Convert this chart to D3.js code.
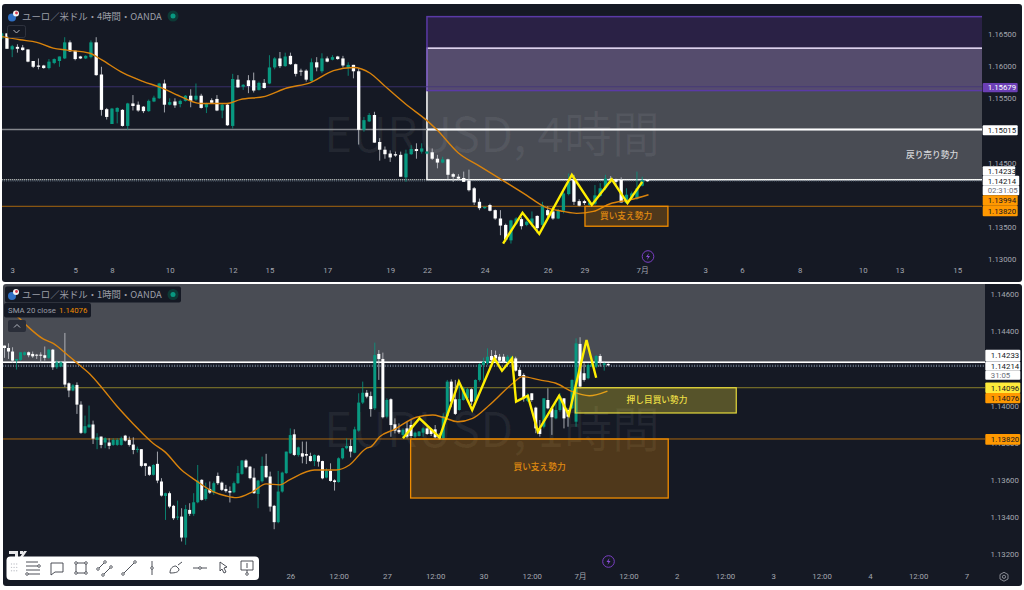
<!DOCTYPE html>
<html>
<head>
<meta charset="utf-8">
<script src="https://cdn.jsdelivr.net/npm/d3@7/dist/d3.min.js"></script>
<style>
	html, body { margin: 0; padding: 0; background: #fff; }
	svg { display: block; }
	text { font-family: Roboto, "Noto Sans CJK JP", sans-serif; }
	.jp { font-family: "Noto Sans CJK JP", sans-serif; }
</style>
</head>
<body>
<svg id="chart" width="1024" height="590"></svg>
<script>
// 4 hour candles
var topOpen = [1.1643,1.1651,1.1626,1.1630,1.1629,1.1626,1.1608,1.1601,1.1601,1.1597,1.1605,1.1608,1.1612,1.1637,1.1624,1.1615,1.1612,1.1614,1.1637,1.1587,1.1533,1.1510,1.1529,1.1532,1.1507,1.1542,1.1540,1.1537,1.1530,1.1545,1.1550,1.1573,1.1540,1.1545,1.1541,1.1546,1.1554,1.1548,1.1554,1.1536,1.1547,1.1549,1.1531,1.1540,1.1507,1.1579,1.1568,1.1578,1.1578,1.1563,1.1574,1.1573,1.1598,1.1612,1.1600,1.1616,1.1603,1.1593,1.1593,1.1577,1.1606,1.1592,1.1612,1.1610,1.1615,1.1612,1.1597,1.1602,1.1592,1.1501,1.1514,1.1524,1.1482,1.1470,1.1464,1.1463,1.1462,1.1427,1.1463,1.1471,1.1467,1.1464,1.1466,1.1456,1.1450,1.1455,1.1432,1.1428,1.1426,1.1422,1.1410,1.1389,1.1379,1.1384,1.1376,1.1363,1.1353,1.1329,1.1355,1.1362,1.1353,1.1355,1.1367,1.1353,1.1376,1.1374,1.1363,1.1375,1.1401,1.1423,1.1390,1.1390,1.1384,1.1386,1.1398,1.1410,1.1425,1.1424,1.1423,1.1387,1.1394,1.1394,1.1414,1.1423];
var topHigh = [1.1652,1.1651,1.1633,1.1634,1.1633,1.1626,1.1608,1.1612,1.1602,1.1611,1.1612,1.1615,1.1645,1.1640,1.1624,1.1616,1.1617,1.1640,1.1645,1.1599,1.1535,1.1535,1.1536,1.1533,1.1543,1.1555,1.1545,1.1538,1.1548,1.1554,1.1574,1.1579,1.1550,1.1550,1.1548,1.1555,1.1564,1.1573,1.1557,1.1543,1.1550,1.1555,1.1542,1.1541,1.1588,1.1586,1.1572,1.1586,1.1590,1.1576,1.1580,1.1617,1.1614,1.1622,1.1621,1.1621,1.1604,1.1596,1.1595,1.1612,1.1614,1.1620,1.1615,1.1617,1.1616,1.1616,1.1606,1.1602,1.1597,1.1521,1.1527,1.1529,1.1488,1.1475,1.1469,1.1467,1.1467,1.1470,1.1477,1.1480,1.1480,1.1468,1.1472,1.1462,1.1459,1.1456,1.1434,1.1432,1.1436,1.1439,1.1412,1.1394,1.1382,1.1386,1.1377,1.1376,1.1355,1.1361,1.1365,1.1365,1.1360,1.1374,1.1368,1.1389,1.1382,1.1381,1.1378,1.1405,1.1433,1.1431,1.1393,1.1392,1.1389,1.1415,1.1418,1.1431,1.1429,1.1425,1.1427,1.1410,1.1405,1.1436,1.1428,1.1424];
var topLow = [1.1642,1.1627,1.1614,1.1621,1.1624,1.1606,1.1597,1.1595,1.1596,1.1595,1.1603,1.1599,1.1611,1.1622,1.1609,1.1611,1.1611,1.1612,1.1585,1.1523,1.1517,1.1510,1.1511,1.1506,1.1501,1.1531,1.1529,1.1527,1.1529,1.1544,1.1549,1.1528,1.1539,1.1535,1.1536,1.1545,1.1536,1.1546,1.1534,1.1527,1.1542,1.1530,1.1519,1.1507,1.1503,1.1566,1.1563,1.1558,1.1559,1.1562,1.1565,1.1572,1.1595,1.1597,1.1599,1.1602,1.1584,1.1585,1.1576,1.1576,1.1592,1.1589,1.1606,1.1609,1.1610,1.1598,1.1585,1.1581,1.1478,1.1498,1.1513,1.1481,1.1453,1.1456,1.1451,1.1459,1.1428,1.1420,1.1462,1.1456,1.1464,1.1463,1.1454,1.1441,1.1449,1.1424,1.1420,1.1423,1.1420,1.1405,1.1384,1.1376,1.1378,1.1374,1.1361,1.1337,1.1327,1.1324,1.1353,1.1346,1.1351,1.1350,1.1340,1.1348,1.1365,1.1361,1.1362,1.1371,1.1399,1.1384,1.1382,1.1384,1.1381,1.1384,1.1397,1.1407,1.1418,1.1415,1.1388,1.1386,1.1393,1.1392,1.1413,1.1420];
var topClose = [1.1651,1.1627,1.1631,1.1627,1.1625,1.1607,1.1599,1.1599,1.1597,1.1607,1.1611,1.1615,1.1637,1.1623,1.1611,1.1612,1.1616,1.1637,1.1586,1.1532,1.1521,1.1534,1.1535,1.1507,1.1542,1.1538,1.1531,1.1530,1.1546,1.1551,1.1573,1.1540,1.1544,1.1539,1.1546,1.1554,1.1546,1.1554,1.1535,1.1542,1.1543,1.1531,1.1540,1.1508,1.1580,1.1567,1.1571,1.1569,1.1562,1.1574,1.1566,1.1598,1.1612,1.1600,1.1615,1.1603,1.1588,1.1592,1.1579,1.1606,1.1598,1.1612,1.1607,1.1614,1.1611,1.1601,1.1602,1.1592,1.1501,1.1516,1.1524,1.1481,1.1470,1.1463,1.1458,1.1461,1.1428,1.1464,1.1471,1.1468,1.1472,1.1467,1.1456,1.1450,1.1455,1.1431,1.1428,1.1425,1.1420,1.1407,1.1388,1.1379,1.1381,1.1375,1.1363,1.1352,1.1330,1.1360,1.1363,1.1351,1.1358,1.1363,1.1348,1.1384,1.1368,1.1363,1.1376,1.1402,1.1420,1.1389,1.1383,1.1387,1.1388,1.1399,1.1410,1.1425,1.1423,1.1420,1.1388,1.1400,1.1402,1.1410,1.1423,1.1421];

var topSmaAt = [0,3.5,6.7,9.8,12.4,16.8,19,23.2,27,30.2,34,37.8,42.9,45.4,50.2,54.3,58.7,63.2,67,70.2,72.7,77.1,80.9,82.9,87,91.1,95.5,100,103.2,107,109.5,112.7,115.9,119.7,123.2];
var topSmaVal = [1.1646,1.1641,1.1637,1.1628,1.1625,1.1620,1.1610,1.1589,1.1576,1.1567,1.1553,1.1542,1.1542,1.1548,1.1553,1.1566,1.1574,1.1593,1.1598,1.1589,1.1571,1.1540,1.1516,1.1501,1.1465,1.1444,1.1422,1.1399,1.1382,1.1374,1.1371,1.1374,1.1386,1.1392,1.1400];
var topWaveAt = [95.5,99.2,102.4,108.6,112.4,116.2,119.2,122];
var topWaveVal = [1.1324,1.1372,1.1339,1.1431,1.1384,1.1424,1.1387,1.1420];

// 1.150 and 1.140 sit fully under the price tags
var topPriceTicks = [1.165,1.16,1.155,1.145,1.135,1.13];
var topTimeAt = [2,14,21,32,44,51,62,74,81,92,104,111,122,134,141,152,164,171,182];
var topTimeLabels = ["3","5","8","10","12","15","17","19","22","24","26","29","7月","3","6","8","10","13","15"];

// 1 hour candles
var lowOpen = [1.14323,1.14310,1.14291,1.14242,1.14246,1.14273,1.14287,1.14278,1.14274,1.14274,1.14271,1.14257,1.14301,1.14206,1.14210,1.14233,1.14120,1.14081,1.14111,1.14005,1.13853,1.13883,1.13898,1.13815,1.13833,1.13801,1.13801,1.13788,1.13788,1.13788,1.13838,1.13815,1.13790,1.13761,1.13765,1.13689,1.13671,1.13627,1.13686,1.13591,1.13513,1.13528,1.13460,1.13399,1.13402,1.13289,1.13438,1.13417,1.13479,1.13600,1.13497,1.13551,1.13531,1.13621,1.13585,1.13551,1.13540,1.13533,1.13582,1.13632,1.13704,1.13671,1.13612,1.13524,1.13592,1.13675,1.13618,1.13460,1.13372,1.13537,1.13636,1.13743,1.13845,1.13734,1.13743,1.13739,1.13728,1.13701,1.13730,1.13701,1.13612,1.13648,1.13597,1.13588,1.13716,1.13770,1.13782,1.13746,1.13865,1.14016,1.14069,1.14051,1.13985,1.14278,1.14251,1.13940,1.14034,1.13899,1.13868,1.13842,1.13877,1.13895,1.13833,1.13836,1.13854,1.13877,1.13872,1.13872,1.13836,1.13824,1.13944,1.14129,1.14034,1.13976,1.14030,1.14039,1.14088,1.14025,1.14138,1.14218,1.14228,1.14267,1.14272,1.14263,1.14263,1.14236,1.14242,1.14254,1.14192,1.14165,1.14025,1.14066,1.13989,1.13877,1.13886,1.14030,1.13985,1.13931,1.13976,1.14039,1.13976,1.13985,1.13913,1.14332,1.14174,1.14147,1.14210,1.14210,1.14267,1.14218,1.14224];
var lowHigh = [1.14323,1.14335,1.14314,1.14251,1.14287,1.14291,1.14291,1.14291,1.14278,1.14287,1.14318,1.14305,1.14305,1.14246,1.14239,1.14391,1.14125,1.14116,1.14125,1.14023,1.13946,1.14000,1.13919,1.13851,1.13833,1.13829,1.13824,1.13824,1.13824,1.13833,1.13842,1.13833,1.13829,1.13779,1.13765,1.13689,1.13675,1.13684,1.13752,1.13609,1.13531,1.13537,1.13465,1.13488,1.13447,1.13465,1.13474,1.13528,1.13680,1.13603,1.13585,1.13591,1.13591,1.13639,1.13591,1.13573,1.13564,1.13591,1.13675,1.13707,1.13711,1.13675,1.13662,1.13600,1.13725,1.13740,1.13644,1.13465,1.13648,1.13644,1.13752,1.13877,1.13872,1.13779,1.13806,1.13806,1.13746,1.13737,1.13734,1.13703,1.13662,1.13689,1.13603,1.13721,1.13773,1.13823,1.13818,1.13886,1.14066,1.14129,1.14084,1.14075,1.14339,1.14299,1.14285,1.14039,1.14039,1.13931,1.13904,1.13877,1.13913,1.13922,1.13860,1.13863,1.13883,1.13886,1.13877,1.13895,1.13851,1.13958,1.14138,1.14141,1.14138,1.14138,1.14102,1.14095,1.14093,1.14141,1.14228,1.14258,1.14308,1.14299,1.14296,1.14278,1.14278,1.14272,1.14267,1.14263,1.14206,1.14174,1.14066,1.14066,1.13994,1.13922,1.14039,1.14093,1.13994,1.14012,1.14066,1.14039,1.13985,1.14141,1.14362,1.14368,1.14228,1.14228,1.14231,1.14272,1.14278,1.14231,1.14228];
var lowLow = [1.14257,1.14251,1.14230,1.14194,1.14242,1.14269,1.14260,1.14257,1.14251,1.14230,1.14242,1.14251,1.14192,1.14197,1.14206,1.14099,1.14045,1.14077,1.13955,1.13847,1.13847,1.13880,1.13793,1.13765,1.13770,1.13770,1.13765,1.13783,1.13783,1.13784,1.13806,1.13779,1.13738,1.13747,1.13668,1.13621,1.13621,1.13623,1.13582,1.13510,1.13384,1.13447,1.13384,1.13384,1.13268,1.13250,1.13406,1.13406,1.13474,1.13488,1.13488,1.13524,1.13519,1.13573,1.13540,1.13531,1.13478,1.13528,1.13578,1.13627,1.13662,1.13603,1.13524,1.13447,1.13585,1.13609,1.13429,1.13334,1.13366,1.13531,1.13632,1.13739,1.13728,1.13725,1.13689,1.13685,1.13698,1.13674,1.13671,1.13603,1.13608,1.13590,1.13542,1.13585,1.13710,1.13764,1.13721,1.13743,1.13859,1.14008,1.14039,1.13940,1.13976,1.14138,1.13931,1.13931,1.13832,1.13850,1.13847,1.13824,1.13824,1.13824,1.13824,1.13833,1.13833,1.13842,1.13836,1.13824,1.13815,1.13818,1.13937,1.13991,1.13949,1.13973,1.14026,1.14030,1.14003,1.14019,1.14129,1.14129,1.14218,1.14236,1.14242,1.14228,1.14228,1.14228,1.14236,1.14183,1.14156,1.14021,1.14019,1.14021,1.13851,1.13833,1.13877,1.13980,1.13842,1.13926,1.13967,1.13877,1.13886,1.13980,1.13886,1.14093,1.14129,1.14141,1.14206,1.14201,1.14210,1.14188,1.14213];
var lowClose = [1.14310,1.14291,1.14242,1.14251,1.14287,1.14287,1.14271,1.14265,1.14271,1.14269,1.14257,1.14301,1.14206,1.14233,1.14233,1.14113,1.14081,1.14109,1.14005,1.13853,1.13889,1.13898,1.13822,1.13829,1.13788,1.13824,1.13783,1.13815,1.13815,1.13824,1.13811,1.13788,1.13761,1.13767,1.13675,1.13675,1.13627,1.13680,1.13596,1.13515,1.13528,1.13456,1.13393,1.13402,1.13289,1.13442,1.13417,1.13479,1.13596,1.13492,1.13551,1.13531,1.13582,1.13582,1.13546,1.13539,1.13531,1.13582,1.13636,1.13704,1.13668,1.13609,1.13528,1.13596,1.13675,1.13614,1.13456,1.13372,1.13537,1.13639,1.13752,1.13841,1.13734,1.13775,1.13725,1.13730,1.13701,1.13734,1.13698,1.13608,1.13648,1.13594,1.13588,1.13716,1.13770,1.13782,1.13752,1.13872,1.14016,1.14069,1.14048,1.13981,1.14272,1.14251,1.13937,1.14030,1.13895,1.13865,1.13856,1.13869,1.13833,1.13836,1.13854,1.13860,1.13877,1.13847,1.13847,1.13829,1.13824,1.13944,1.14129,1.14021,1.13955,1.14035,1.14093,1.14088,1.14021,1.14138,1.14222,1.14236,1.14263,1.14245,1.14254,1.14242,1.14236,1.14263,1.14263,1.14188,1.14159,1.14039,1.14057,1.14030,1.13877,1.13847,1.14039,1.13985,1.13937,1.13976,1.14048,1.13931,1.13940,1.14138,1.14335,1.14102,1.14138,1.14219,1.14228,1.14267,1.14236,1.14228,1.14217];

var lowSmaAt = [0,3.4,5.5,9.6,12.1,15.4,18.3,21.2,24.1,27.8,32,36.9,39.8,44,47.3,51.8,55.1,57.6,61.7,65,68.4,70.8,77,82.4,85.7,89.9,91.1,93.2,96.9,102.3,106.4,108.9,112.6,116.3,120.5,126.3,128.7,132.9,137,141.1,145.3,149.8];
var lowSmaVal = [1.14538,1.14475,1.14431,1.14359,1.14335,1.14278,1.14224,1.14170,1.14099,1.14000,1.13901,1.13797,1.13752,1.13653,1.13600,1.13537,1.13513,1.13504,1.13537,1.13578,1.13573,1.13600,1.13653,1.13653,1.13680,1.13770,1.13779,1.13832,1.13872,1.13937,1.13949,1.13937,1.13913,1.13931,1.14003,1.14120,1.14156,1.14138,1.14120,1.14075,1.14053,1.14078];
var lowWaveAt = [99,103.1,108.1,112.9,116.2,121.7,123.6,126.1,127.1,130,132.5,137.8,140.2,144.6,147];
var lowWaveVal = [1.13824,1.13931,1.13829,1.14129,1.13976,1.14254,1.14188,1.14254,1.14021,1.14053,1.13860,1.14053,1.13949,1.14353,1.14150];

// 1.142 sits fully under the price tags
var lowPriceTicks = [1.146,1.144,1.14,1.138,1.136,1.134,1.132];
var lowTimeAt = [11,23,35,47,59,71,83,95,107,119,131,143,155,167,179,191,203,215,227,239];
var lowTimeLabels = ["12:00","24","12:00","25","12:00","26","12:00","27","12:00","30","12:00","7月","12:00","2","12:00","3","12:00","4","12:00","7"];

var toolbarAt = [33,57,81,105,129,152,176,200,223,247];

var bg = "#151924",
	green = "#089981",
	orange = "#f08c00",
	orangeLine = "#a8670f",
	tickGray = "#a4a7b0",
	nameGray = "#9b9ea7";

var svg = d3.select("#chart");
var defs = svg.append("defs");

function rows(o, h, l, c) {
	return o.map(function(d, i) {
		return {i: i, o: d, h: h[i], l: l[i], c: c[i]};
	});
}

function pairs(at, val) {
	return at.map(function(d, i) { return [d, val[i]]; });
}

function panel(cfg) {
	var g = svg.append("g");

	g.append("rect")
		.attr("x", cfg.left)
		.attr("y", cfg.top)
		.attr("width", 1022 - cfg.left)
		.attr("height", cfg.bottom - cfg.top)
		.attr("rx", 3)
		.attr("fill", bg);

	defs.append("clipPath")
		.attr("id", cfg.id)
		.append("rect")
		.attr("x", cfg.left)
		.attr("y", cfg.top)
		.attr("width", cfg.right - cfg.left)
		.attr("height", cfg.axisY - cfg.top);

	var x = d3.scaleLinear().domain(cfg.xDomain).range(cfg.xRange);
	var y = d3.scaleLinear().domain(cfg.yDomain).range(cfg.yRange);

	var plot = g.append("g").attr("clip-path", "url(#" + cfg.id + ")");

	plot.append("text")
		.attr("class", "jp")
		.attr("x", 492)
		.attr("y", cfg.markY)
		.attr("text-anchor", "middle")
		.attr("font-size", 48)
		.attr("fill", "#fff")
		.attr("fill-opacity", 0.06)
		.text(cfg.mark);

	return {g: g, plot: plot, x: x, y: y};
}

function zone(p, x, y, d) {
	p.append("rect")
		.attr("x", x(d.x0))
		.attr("y", y(d.y0))
		.attr("width", x(d.x1) - x(d.x0))
		.attr("height", y(d.y1) - y(d.y0))
		.attr("fill", d.fill)
		.attr("stroke", d.stroke || "none")
		.attr("stroke-width", d.sw || 1.5);
}

function hline(p, x, y, price, from, color, width, dash) {
	p.append("line")
		.attr("x1", x(from))
		.attr("x2", x(300))
		.attr("y1", y(price))
		.attr("y2", y(price))
		.attr("stroke", color)
		.attr("stroke-width", width)
		.attr("stroke-dasharray", dash || null);
}

function candles(p, x, y, data, bodyWidth) {
	var c = p.append("g");
	c.selectAll("line.wick")
		.data(data)
		.enter()
		.append("line")
		.attr("class", "wick")
		.attr("x1", function(d) { return x(d.i); })
		.attr("x2", function(d) { return x(d.i); })
		.attr("y1", function(d) { return y(d.h); })
		.attr("y2", function(d) { return y(d.l); })
		.attr("stroke", function(d) { return d.c >= d.o ? green : "#c8cad0"; })
		.attr("stroke-width", 0.8);
	c.selectAll("rect.body")
		.data(data)
		.enter()
		.append("rect")
		.attr("class", "body")
		.attr("x", function(d) { return x(d.i) - bodyWidth / 2; })
		.attr("y", function(d) { return y(Math.max(d.o, d.c)); })
		.attr("width", bodyWidth)
		.attr("height", function(d) { return Math.max(1, Math.abs(y(d.o) - y(d.c))); })
		.attr("fill", function(d) { return d.c >= d.o ? green : "#fff"; });
}

function path(p, x, y, pts, color, width, curve) {
	p.append("path")
		.attr("d", d3.line()
			.x(function(d) { return x(d[0]); })
			.y(function(d) { return y(d[1]); })
			.curve(curve)(pts))
		.attr("fill", "none")
		.attr("stroke", color)
		.attr("stroke-width", width)
		.attr("stroke-linejoin", "miter");
}

function axes(g, x, y, cfg, priceTicks, timeAt, timeLabels) {
	var ay = g.append("g")
		.attr("transform", "translate(" + cfg.tickX + ",0)")
		.call(d3.axisRight(y).tickValues(priceTicks).tickSize(0).tickPadding(0).tickFormat(d3.format(".5f")));
	var ax = g.append("g")
		.attr("transform", "translate(0," + cfg.axisY + ")")
		.call(d3.axisBottom(x).tickValues(timeAt).tickSize(0).tickPadding(3).tickFormat(function(d, i) { return timeLabels[i]; }));
	[ay, ax].forEach(function(a) {
		a.select(".domain").remove();
		a.selectAll("text")
			.attr("fill", tickGray)
			.attr("font-size", 7.8)
			.attr("font-family", 'Roboto, "Noto Sans CJK JP", sans-serif');
	});
}

function tag(g, d) {
	g.append("rect")
		.attr("x", d.x)
		.attr("y", d.y)
		.attr("width", d.w)
		.attr("height", d.h)
		.attr("rx", 1)
		.attr("fill", d.fill);
	g.append("text")
		.attr("x", d.x + d.pad)
		.attr("y", d.y + d.h / 2 + 2.8)
		.attr("font-size", 7.8)
		.attr("fill", d.color)
		.text(d.text);
}

function label(g, px, py, text, color) {
	g.append("text")
		.attr("class", "jp")
		.attr("x", px)
		.attr("y", py)
		.attr("text-anchor", "middle")
		.attr("font-size", 8.7)
		.attr("font-weight", 500)
		.attr("fill", color)
		.text(text);
}

function header(g, py, text, boxed) {
	if (boxed) {
		g.append("rect").attr("x", 5).attr("y", py - 8).attr("width", 176).attr("height", 16).attr("rx", 2).attr("fill", bg);
	}
	g.append("circle").attr("cx", 12).attr("cy", py + 1.5).attr("r", 4).attr("fill", "#2f6fc4");
	g.append("circle").attr("cx", 16).attr("cy", py - 2.5).attr("r", 3).attr("fill", "#f4f4f4");
	g.append("circle").attr("cx", 16.5).attr("cy", py - 3).attr("r", 1.4).attr("fill", "#d8394c");
	g.append("text")
		.attr("class", "jp")
		.attr("x", 22)
		.attr("y", py + 3.6)
		.attr("font-size", 9.4)
		.attr("fill", nameGray)
		.text(text);
	g.append("circle").attr("cx", 173).attr("cy", py).attr("r", 5.5).attr("fill", "#0d3a36");
	g.append("circle").attr("cx", 173).attr("cy", py).attr("r", 2.5).attr("fill", green);
}

function chevron(g, px, py, up) {
	g.append("rect")
		.attr("x", px)
		.attr("y", py)
		.attr("width", 18)
		.attr("height", 12)
		.attr("rx", 2)
		.attr("fill", up ? "#2a2e39" : bg)
		.attr("stroke", up ? "none" : "#3a3e4a")
		.attr("stroke-width", 0.7);
	g.append("path")
		.attr("d", up
			? "M" + (px + 6) + "," + (py + 7.5) + "l3,-3l3,3"
			: "M" + (px + 6) + "," + (py + 4.5) + "l3,3l3,-3")
		.attr("fill", "none")
		.attr("stroke", "#b2b5be")
		.attr("stroke-width", 1);
}

function bolt(g, px, py) {
	g.append("circle")
		.attr("cx", px).attr("cy", py).attr("r", 5.8)
		.attr("fill", "none").attr("stroke", "#7b3fc4").attr("stroke-width", 1);
	g.append("path")
		.attr("d", "M" + (px + 1) + "," + (py - 3.5) + "l-3,4h2l-1,3l3,-4h-2z")
		.attr("fill", "#8a4fd8");
}

// top panel, 4 hours
var topCfg = {
	id: "clipTop", left: 2, top: 4, right: 982, bottom: 282, axisY: 264, tickX: 988, markY: 152,
	mark: "EURUSD, 4時間",
	xDomain: [0, 100], xRange: [1.7, 526.7],
	yDomain: [1.13, 1.165], yRange: [259, 34]
};
var topP = panel(topCfg);

zone(topP.plot, topP.x, topP.y, {x0: 81, x1: 300, y0: 1.1628, y1: 1.14233, fill: "rgba(255,255,255,0.225)", stroke: "#fff"});
zone(topP.plot, topP.x, topP.y, {x0: 81, x1: 300, y0: 1.1677, y1: 1.1562, fill: "rgba(150,78,236,0.17)", stroke: "#5a3aa6"});
hline(topP.plot, topP.x, topP.y, 1.15679, 0, "#43357a", 0.8);
hline(topP.plot, topP.x, topP.y, 1.15015, 0, "#85878d", 1.5);
hline(topP.plot, topP.x, topP.y, 1.15015, 81, "#fff", 2);
hline(topP.plot, topP.x, topP.y, 1.14233, 0, "#e8ece8", 1.2, "1.2 0.8");
hline(topP.plot, topP.x, topP.y, 1.14214, 0, "#5f7080", 1, "1 1.2");
hline(topP.plot, topP.x, topP.y, 1.1382, 0, orangeLine, 1);

candles(topP.plot, topP.x, topP.y, rows(topOpen, topHigh, topLow, topClose), 3.3);
path(topP.plot, topP.x, topP.y, pairs(topSmaAt, topSmaVal), "#d9830c", 1.4, d3.curveMonotoneX);
zone(topP.plot, topP.x, topP.y, {x0: 111.1, x1: 126.9, y0: 1.1382, y1: 1.1351, fill: "rgba(255,152,0,0.25)", stroke: orange, sw: 1.3});
path(topP.plot, topP.x, topP.y, pairs(topWaveAt, topWaveVal), "#ffee00", 2.4, d3.curveLinear);

label(topP.plot, 626, 219, "買い支え勢力", "#e08a10");
label(topP.plot, 932, 158, "戻り売り勢力", "#d4d5d8");

axes(topP.g, topP.x, topP.y, topCfg, topPriceTicks, topTimeAt, topTimeLabels);
header(topP.g, 16, "ユーロ／米ドル・4時間・OANDA", false);
chevron(topP.g, 7.5, 25.5, false);
bolt(topP.g, 648, 256.5);

tag(topP.g, {x: 982.7, y: 83, w: 35, h: 9.3, pad: 5, fill: "#6b3fb5", color: "#fff", text: "1.15679"});
tag(topP.g, {x: 982.7, y: 125.3, w: 35, h: 10, pad: 5, fill: "#fff", color: "#131722", text: "1.15015"});
tag(topP.g, {x: 982.7, y: 166.3, w: 32.5, h: 9.4, pad: 5, fill: "#fff", color: "#131722", text: "1.14233"});
tag(topP.g, {x: 982.7, y: 175.7, w: 36.5, h: 10, pad: 5, fill: "#fff", color: "#131722", text: "1.14214"});
tag(topP.g, {x: 982.7, y: 185.7, w: 36.5, h: 9.6, pad: 5, fill: "#fff", color: "#6a6d78", text: "02:31:05"});
tag(topP.g, {x: 982.7, y: 195.3, w: 35, h: 10.5, pad: 5, fill: "#ff9800", color: "#131722", text: "1.13994"});
tag(topP.g, {x: 982.7, y: 205.8, w: 35, h: 10.5, pad: 5, fill: "#ff9800", color: "#131722", text: "1.13820"});

// bottom panel, 1 hour
var lowCfg = {
	id: "clipLow", left: 3, top: 284, right: 985, bottom: 586, axisY: 570, tickX: 990.5, markY: 447,
	mark: "EURUSD, 1時間",
	xDomain: [0, 100], xRange: [4.5, 407],
	yDomain: [1.132, 1.146], yRange: [554.1, 294.15]
};
var lowP = panel(lowCfg);

zone(lowP.plot, lowP.x, lowP.y, {x0: -5, x1: 300, y0: 1.15, y1: 1.14233, fill: "rgba(255,255,255,0.225)", stroke: "#fff"});
hline(lowP.plot, lowP.x, lowP.y, 1.14233, -5, "#fff", 1.3);
hline(lowP.plot, lowP.x, lowP.y, 1.14214, -5, "#6a7688", 2.2, "1 1.6");
hline(lowP.plot, lowP.x, lowP.y, 1.14096, -5, "#8a7f2a", 1);
hline(lowP.plot, lowP.x, lowP.y, 1.1382, -5, orangeLine, 1);

candles(lowP.plot, lowP.x, lowP.y, rows(lowOpen, lowHigh, lowLow, lowClose), 3);
path(lowP.plot, lowP.x, lowP.y, pairs(lowSmaAt, lowSmaVal), "#d9830c", 1.4, d3.curveMonotoneX);
zone(lowP.plot, lowP.x, lowP.y, {x0: 141.8, x1: 181.8, y0: 1.14096, y1: 1.1396, fill: "rgba(255,235,59,0.28)", stroke: "#e6da3c", sw: 1.2});
zone(lowP.plot, lowP.x, lowP.y, {x0: 100.9, x1: 164.9, y0: 1.1382, y1: 1.13502, fill: "rgba(255,152,0,0.25)", stroke: orange, sw: 1.3});
path(lowP.plot, lowP.x, lowP.y, pairs(lowWaveAt, lowWaveVal), "#ffee00", 2.4, d3.curveLinear);

label(lowP.plot, 657, 403, "押し目買い勢力", "#ecdf45");
label(lowP.plot, 539.5, 470, "買い支え勢力", "#e08a10");

axes(lowP.g, lowP.x, lowP.y, lowCfg, lowPriceTicks, lowTimeAt, lowTimeLabels);
header(lowP.g, 294.5, "ユーロ／米ドル・1時間・OANDA", true);
lowP.g.append("rect").attr("x", 4).attr("y", 303).attr("width", 87).attr("height", 14.5).attr("rx", 2).attr("fill", bg);
lowP.g.append("text").attr("x", 8).attr("y", 313).attr("font-size", 7.8).attr("fill", nameGray).text("SMA 20 close");
lowP.g.append("text").attr("x", 59).attr("y", 313).attr("font-size", 7.8).attr("fill", "#f08c00").text("1.14076");
chevron(lowP.g, 8, 320, true);
bolt(lowP.g, 608.5, 561.5);

tag(lowP.g, {x: 985.3, y: 349.7, w: 35, h: 11.7, pad: 5.5, fill: "#fff", color: "#131722", text: "1.14233"});
tag(lowP.g, {x: 985.3, y: 361.4, w: 35, h: 9.3, pad: 5.5, fill: "#fff", color: "#131722", text: "1.14214"});
tag(lowP.g, {x: 985.3, y: 370.7, w: 35, h: 9, pad: 5.5, fill: "#fff", color: "#6a6d78", text: "31:05"});
tag(lowP.g, {x: 985.3, y: 382.5, w: 35, h: 10.5, pad: 5.5, fill: "#ffeb3b", color: "#131722", text: "1.14096"});
tag(lowP.g, {x: 985.3, y: 393, w: 35, h: 10.3, pad: 5.5, fill: "#ff9800", color: "#131722", text: "1.14076"});
tag(lowP.g, {x: 985.3, y: 434, w: 35, h: 10.7, pad: 5.5, fill: "#ff9800", color: "#131722", text: "1.13820"});

// settings gear
lowP.g.append("path")
	.attr("d", "M1000,574.5l4,-2.2l4,2.2v4.5l-4,2.2l-4,-2.2z")
	.attr("fill", "none").attr("stroke", "#9598a1").attr("stroke-width", 0.9);
lowP.g.append("circle").attr("cx", 1004).attr("cy", 576.8).attr("r", 1.6).attr("fill", "none").attr("stroke", "#9598a1").attr("stroke-width", 0.9);

// logo peeks out above the toolbar
lowP.g.append("path")
	.attr("d", "M9,551h9v6h-3v-3h-6zM20,551h3v3h-3zM24,551h3l-4,6h-3z")
	.attr("fill", "#e8e8ea");

// drawing toolbar
var bar = svg.append("g");
bar.append("rect")
	.attr("x", 6.5).attr("y", 556.5).attr("width", 252.5).attr("height", 23.5).attr("rx", 4)
	.attr("fill", "#fff");
bar.selectAll("circle.grip")
	.data(d3.range(9))
	.enter()
	.append("circle")
	.attr("class", "grip")
	.attr("cx", function(d) { return 11.5 + (d % 3) * 2.6; })
	.attr("cy", function(d) { return 564 + Math.floor(d / 3) * 3.4; })
	.attr("r", 0.7)
	.attr("fill", "#c4c6cc");

var icons = [
	"M-7,-6h12M-7,-2h14M-7,2h14M-5,6h12",
	"M-6,-5h12v9h-8l-4,3z",
	"M-5,-5h10v10h-10z",
	"M-7,1l7,-7M-2,7l8,-8",
	"M-6,6l12,-12",
	"M0,-7v14",
	"M-6,5c0,-5 3,-7 6,-7l3,3c0,3 -3,4 -9,4zM2,-3l4,-3",
	"M-7,0h14",
	"M-3,-6l7,5l-3,1l2,4l-2,1l-2,-4l-2,2z",
	"M-6,-7h12v9h-12zM0,-5v5M0,2v5"
];
var nodes = [
	[[6,-2],[-6,6]],
	[],
	[[-5,-5],[5,-5],[-5,5],[5,5]],
	[[-7,1],[0,-6],[-2,7],[6,-1]],
	[[-6,6],[6,-6]],
	[[0,0]],
	[],
	[[0,0]],
	[],
	[[0,6]]
];
var icon = bar.selectAll("g.icon")
	.data(toolbarAt)
	.enter()
	.append("g")
	.attr("class", "icon")
	.attr("transform", function(d) { return "translate(" + d + ",568)"; });
icon.append("path")
	.attr("d", function(d, i) { return icons[i]; })
	.attr("fill", "none")
	.attr("stroke", "#3a3d46")
	.attr("stroke-width", 0.9);
icon.each(function(d, i) {
	d3.select(this).selectAll("circle")
		.data(nodes[i])
		.enter()
		.append("circle")
		.attr("cx", function(n) { return n[0]; })
		.attr("cy", function(n) { return n[1]; })
		.attr("r", 1.3)
		.attr("fill", "#fff")
		.attr("stroke", "#3a3d46")
		.attr("stroke-width", 0.8);
});
</script>
</body>
</html>
